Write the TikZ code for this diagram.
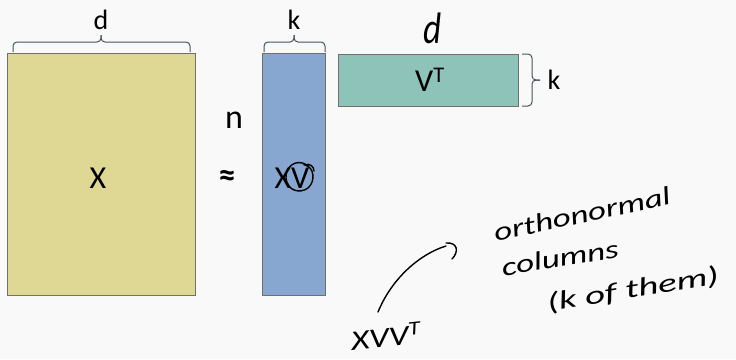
\documentclass[tikz,border=0pt]{standalone}
\usepackage{fontspec}
\setmainfont{Carlito}
\definecolor{bgc}{HTML}{F9F9F9}
\definecolor{yel}{HTML}{DFD794}
\definecolor{blu}{HTML}{87A7D0}
\definecolor{tea}{HTML}{8EC3B9}
\definecolor{edg}{HTML}{707068}
\definecolor{brc}{HTML}{46545A}
\begin{document}
\begin{tikzpicture}[x=1pt,y=-1pt,
  mat/.style={draw=edg,line width=0.9pt},
  brcline/.style={draw=brc,line width=1pt,rounded corners=4pt},
  lab/.style={font=\fontsize{32}{32}\selectfont,text=black,inner sep=0pt},
  hand/.style={font=\itshape\fontsize{26}{26}\selectfont,text=black,inner sep=0pt},
  ink/.style={draw=black,line width=1.4pt,line cap=round}]
\path[fill=bgc] (0,0) rectangle (736,359);
\useasboundingbox (0,0) rectangle (736,359);
% matrices
\node[mat,fill=yel,minimum width=188pt,minimum height=242pt,anchor=north west] (X) at (7,53) {};
\node[mat,fill=blu,minimum width=63pt,minimum height=242pt,anchor=north west] (XV) at (262,53) {};
\node[mat,fill=tea,minimum width=180pt,minimum height=52pt,anchor=north west] (VT) at (338,54) {};
% texts in matrices
\node[lab] (xl) at (98,178) {X};
\node[lab,font=\bfseries\fontsize{34}{34}\selectfont] (approx) at (227,178) {≈};
\node[lab] (xvl) at (292,178) {XV};
\node[lab] (vtl) at (430,80) {V\textsuperscript{T}};
\draw[ink] (307,165) .. controls (296,158) and (285,167) .. (286,178)
  .. controls (287,191) and (300,194) .. (308,188)
  .. controls (316,181) and (314,167) .. (305,165)
  .. controls (309,163) and (314,166) .. (314,171);
% braces
\draw[brcline] (13,52) -- (13,42) -- (101,42) -- (101,35);
\draw[brcline] (190,52) -- (190,42) -- (101,42) -- (101,35);
\node[lab,font=\fontsize{28}{28}\selectfont] (dl) at (101,20) {d};
\draw[brcline] (264,52) -- (264,42) -- (294,42) -- (294,35);
\draw[brcline] (325,52) -- (325,42) -- (294,42) -- (294,35);
\node[lab,font=\fontsize{28}{28}\selectfont] (kl) at (294,20) {k};
\draw[brcline] (522,54) -- (532,54) -- (532,80) -- (540,80);
\draw[brcline] (522,106) -- (532,106) -- (532,80) -- (540,80);
\node[lab,font=\fontsize{28}{28}\selectfont] (kr) at (554,80) {k};
% handwritten
\node[hand,font=\itshape\fontsize{44}{44}\selectfont,xscale=0.8] (dh) at (433,28) {d};
\node[hand,font=\fontsize{34}{34}\selectfont] (nh) at (234,120) {n};
\node[hand,font=\itshape\fontsize{28}{28}\selectfont,rotate=6,xscale=1.25] (xvvt) at (386,336) {XVV\textsuperscript{T}};
\node[hand,rotate=12,xscale=1.35] (ortho) at (582,214) {orthonormal};
\node[hand,rotate=9,xscale=1.35] (cols) at (560,258) {columns};
\node[hand,rotate=9,xscale=1.5] (kof) at (633,290) {(k of them)};
\coordinate (cs) at (378,312);
\coordinate (ce) at (446,246);
\draw[ink] (cs) .. controls (392,278) and (420,254) .. (ce);
\draw[ink] (446,243) .. controls (458,242) and (459,252) .. (452,259);
\end{tikzpicture}
\end{document}
